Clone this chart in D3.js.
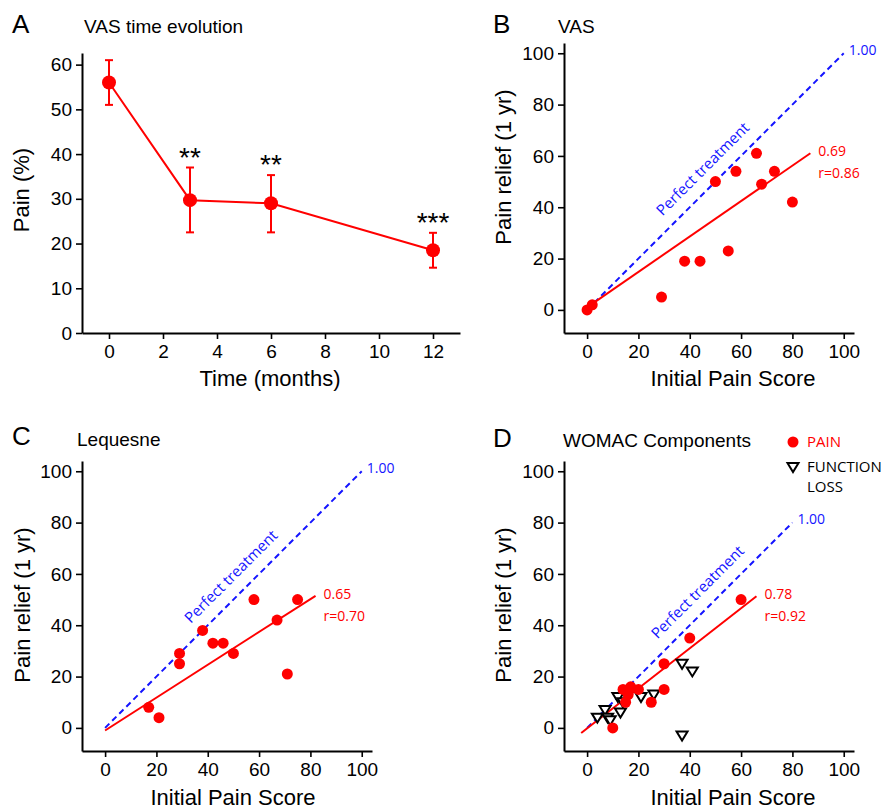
<!DOCTYPE html>
<html>
<head>
<meta charset="utf-8">
<script src="https://cdn.jsdelivr.net/npm/d3@7"></script>
<style>
    body { margin: 0; background: #fff; }
    svg { display: block; }
</style>
</head>
<body>
<div id="chart"></div>
<script>
// panel A : VAS over time
var monthsA = [0, 3, 6, 12];
var painA = [56, 29.7, 29, 18.5];
var errLowA = [51, 22.5, 22.5, 14.6];
var errHighA = [61, 37, 35.3, 22.4];
var sigA = ["", "**", "**", "***"];
var xTicksA = [0, 2, 4, 6, 8, 10, 12];
var xMinorA = [-1, 1, 3, 5, 7, 9, 11, 13];
var yTicksA = [0, 10, 20, 30, 40, 50, 60];
var yMinorA = [5, 15, 25, 35, 45, 55];

// panel B : VAS
var initialB = [0, 2, 29, 38, 44, 55, 50, 58, 66, 68, 73, 80];
var reliefB = [0, 2, 5, 19, 19, 23, 50, 54, 61, 49, 54, 42];
var fitB = [0.69, 1, 0, 87]; // slope, intercept, from, to

// panel C : Lequesne
var initialC = [17, 21, 29, 29, 38, 42, 46, 50, 58, 67, 71, 75];
var reliefC = [8, 4, 29, 25, 38, 33, 33, 29, 50, 42, 21, 50];
var fitC = [0.64, -1, 0, 82];

// panel D : WOMAC components
var initialPainD = [10, 15, 14, 16, 17, 20, 25, 30, 30, 40, 60];
var reliefPainD = [0, 10, 15, 13, 16, 15, 10, 15, 25, 35, 50];
var initialFuncD = [4, 7, 8, 9, 12, 13, 14, 21, 26, 37, 41, 37];
var reliefFuncD = [4, 7, 4, 3, 12, 6, 10, 12, 13, 25, 22, -3];
var fitD = [0.78, -0.2, -2.3, 66];

var scoreTicks = [0, 20, 40, 60, 80, 100];
var scoreMinor = [10, 30, 50, 70, 90];

var RED = "#ff0000", BLUE = "#1414ff";
var MAIN_FONT = "'Liberation Sans', Arial, Helvetica, sans-serif";
var NOTE_FONT = "'Open Sans', 'DejaVu Sans', sans-serif";

var svg = d3.select("#chart").append("svg")
    .attr("width", 881)
    .attr("height", 810);

svg.append("rect").attr("width", 881).attr("height", 810).attr("fill", "#fff");

//draws both axes with major (labelled) and minor ticks
function drawAxes(x, y, xMajor, xMinor, yMajor, yMinor) {
    var bottom = y.range()[0], left = x.range()[0];

    var gx = svg.append("g").attr("transform", "translate(0," + bottom + ")");
    gx.call(d3.axisBottom(x).tickValues(xMinor).tickSize(4).tickSizeOuter(0).tickFormat(""));
    gx.call(d3.axisBottom(x).tickValues(xMajor).tickSize(6).tickSizeOuter(0).tickPadding(6));

    var gy = svg.append("g").attr("transform", "translate(" + left + ",0)");
    gy.call(d3.axisLeft(y).tickValues(yMinor).tickSize(4).tickSizeOuter(0).tickFormat(""));
    gy.call(d3.axisLeft(y).tickValues(yMajor).tickSize(6).tickSizeOuter(0).tickPadding(4));

    [gx, gy].forEach(function (g) {
        g.selectAll(".domain").attr("stroke", "#000").attr("stroke-width", 2);
        g.selectAll(".tick line").attr("stroke", "#000").attr("stroke-width", 1.6);
        g.selectAll(".tick text")
            .attr("fill", "#000")
            .style("font-family", MAIN_FONT)
            .style("font-size", "19px");
    });
}

function panelTitle(letter, lx, ly, title, tx, ty) {
    svg.append("text").attr("x", lx).attr("y", ly)
        .style("font-family", MAIN_FONT).style("font-size", "26px")
        .text(letter);
    svg.append("text").attr("x", tx).attr("y", ty)
        .style("font-family", MAIN_FONT).style("font-size", "19px")
        .text(title);
}

function axisLabels(xText, xx, xy, yText, yx, yy) {
    svg.append("text").attr("x", xx).attr("y", xy)
        .attr("text-anchor", "middle")
        .style("font-family", MAIN_FONT).style("font-size", "22px")
        .text(xText);
    svg.append("text")
        .attr("transform", "translate(" + yx + "," + yy + ") rotate(-90)")
        .attr("text-anchor", "middle")
        .attr("dy", "0.35em")
        .style("font-family", MAIN_FONT).style("font-size", "22px")
        .text(yText);
}

// ---------------- panel A ----------------
var xA = d3.scaleLinear().domain([-1, 13]).range([82, 460]);
var yA = d3.scaleLinear().domain([0, 62.6]).range([333, 53]);
drawAxes(xA, yA, xTicksA, xMinorA, yTicksA, yMinorA);
panelTitle("A", 12, 33, "VAS time evolution", 84, 33);
axisLabels("Time (months)", 270, 386, "Pain (%)", 21, 190);

var lineA = d3.line()
    .x(function (d, i) { return xA(monthsA[i]); })
    .y(function (d) { return yA(d); });

svg.append("path").datum(painA)
    .attr("d", lineA)
    .attr("fill", "none")
    .attr("stroke", RED)
    .attr("stroke-width", 2);

var errA = svg.selectAll(".errA").data(monthsA).enter().append("g").attr("class", "errA");
errA.append("line")
    .attr("x1", function (d) { return xA(d); })
    .attr("x2", function (d) { return xA(d); })
    .attr("y1", function (d, i) { return yA(errLowA[i]); })
    .attr("y2", function (d, i) { return yA(errHighA[i]); });
errA.append("line")
    .attr("x1", function (d) { return xA(d) - 4; })
    .attr("x2", function (d) { return xA(d) + 4; })
    .attr("y1", function (d, i) { return yA(errLowA[i]); })
    .attr("y2", function (d, i) { return yA(errLowA[i]); });
errA.append("line")
    .attr("x1", function (d) { return xA(d) - 4; })
    .attr("x2", function (d) { return xA(d) + 4; })
    .attr("y1", function (d, i) { return yA(errHighA[i]); })
    .attr("y2", function (d, i) { return yA(errHighA[i]); });
errA.selectAll("line").attr("stroke", RED).attr("stroke-width", 2);

svg.selectAll(".dotA").data(monthsA).enter().append("circle")
    .attr("cx", function (d) { return xA(d); })
    .attr("cy", function (d, i) { return yA(painA[i]); })
    .attr("r", 7)
    .attr("fill", RED);

svg.selectAll(".sigA").data(monthsA).enter().append("text")
    .attr("x", function (d) { return xA(d); })
    .attr("y", function (d, i) { return yA(errHighA[i]) - 1; })
    .attr("text-anchor", "middle")
    .style("font-family", MAIN_FONT)
    .style("font-size", "28px")
    .text(function (d, i) { return sigA[i]; });

// ---------------- scatter panels ----------------
function scatterPanel(p) {
    var x = d3.scaleLinear().domain([-9, 104]).range(p.xRange);
    var y = d3.scaleLinear().domain([-9, 104]).range(p.yRange);
    drawAxes(x, y, scoreTicks, scoreMinor, scoreTicks, scoreMinor);
    panelTitle(p.letter, p.letterPos[0], p.letterPos[1], p.title, p.titlePos[0], p.titlePos[1]);
    axisLabels("Initial Pain Score", p.xLabelPos[0], p.xLabelPos[1],
        "Pain relief (1 yr)", p.yLabelPos[0], p.yLabelPos[1]);

    // perfect treatment line (slope 1)
    svg.append("line")
        .attr("x1", x(0)).attr("y1", y(0))
        .attr("x2", x(p.perfectTo)).attr("y2", y(p.perfectTo))
        .attr("stroke", BLUE)
        .attr("stroke-width", 2)
        .attr("stroke-dasharray", "6,4");
    svg.append("text")
        .attr("x", x(p.perfectTo) + 5).attr("y", y(p.perfectTo) - 3)
        .attr("dy", "0.35em")
        .attr("fill", BLUE)
        .style("font-family", NOTE_FONT).style("font-size", "14px")
        .text("1.00");
    svg.append("text")
        .attr("transform", "translate(" + x(p.perfectText) + "," + y(p.perfectText) + ") rotate(-45)")
        .attr("y", -18)
        .attr("dy", "0.35em")
        .attr("text-anchor", "middle")
        .attr("fill", BLUE)
        .style("font-family", NOTE_FONT).style("font-size", "15px")
        .text("Perfect treatment");

    // regression line
    var f = p.fit;
    svg.append("line")
        .attr("x1", x(f[2])).attr("y1", y(f[0] * f[2] + f[1]))
        .attr("x2", x(f[3])).attr("y2", y(f[0] * f[3] + f[1]))
        .attr("stroke", RED)
        .attr("stroke-width", 2);
    var ex = x(f[3]) + 8, ey = y(f[0] * f[3] + f[1]) - 2;
    svg.append("text").attr("x", ex).attr("y", ey).attr("dy", "0.35em")
        .attr("fill", RED)
        .style("font-family", NOTE_FONT).style("font-size", "14px")
        .text(p.slopeText);
    svg.append("text").attr("x", ex).attr("y", ey + 22).attr("dy", "0.35em")
        .attr("fill", RED)
        .style("font-family", NOTE_FONT).style("font-size", "14px")
        .text(p.rText);

    if (p.funcX) {
        svg.selectAll(null).data(p.funcX).enter().append("path")
            .attr("d", "M-5.5,-4 L5.5,-4 L0,5 Z")
            .attr("transform", function (d, i) { return "translate(" + x(d) + "," + y(p.funcY[i]) + ")"; })
            .attr("fill", "#fff")
            .attr("stroke", "#000")
            .attr("stroke-width", 2);
    }

    svg.selectAll(null).data(p.dotsX).enter().append("circle")
        .attr("cx", function (d) { return x(d); })
        .attr("cy", function (d, i) { return y(p.dotsY[i]); })
        .attr("r", 5.5)
        .attr("fill", RED);
}

scatterPanel({
    xRange: [564, 854], yRange: [333, 43],
    letter: "B", letterPos: [493, 33], title: "VAS", titlePos: [558, 33],
    xLabelPos: [733, 386], yLabelPos: [503, 167],
    perfectTo: 100, perfectText: 50,
    fit: fitB, slopeText: "0.69", rText: "r=0.86",
    dotsX: initialB, dotsY: reliefB
});

scatterPanel({
    xRange: [82, 372], yRange: [751, 461],
    letter: "C", letterPos: [12, 445], title: "Lequesne", titlePos: [77, 446],
    xLabelPos: [233, 805], yLabelPos: [22, 605],
    perfectTo: 100, perfectText: 54,
    fit: fitC, slopeText: "0.65", rText: "r=0.70",
    dotsX: initialC, dotsY: reliefC
});

scatterPanel({
    xRange: [564, 854], yRange: [751, 461],
    letter: "D", letterPos: [493, 447], title: "WOMAC Components", titlePos: [563, 447],
    xLabelPos: [733, 805], yLabelPos: [503, 605],
    perfectTo: 80, perfectText: 48,
    fit: fitD, slopeText: "0.78", rText: "r=0.92",
    dotsX: initialPainD, dotsY: reliefPainD,
    funcX: initialFuncD, funcY: reliefFuncD
});

//legend for panel D
svg.append("circle").attr("cx", 793).attr("cy", 442).attr("r", 5.5).attr("fill", RED);
svg.append("path").attr("d", "M-5.5,-4 L5.5,-4 L0,5 Z")
    .attr("transform", "translate(793,467)")
    .attr("fill", "#fff").attr("stroke", "#000").attr("stroke-width", 2);
svg.append("text").attr("x", 807).attr("y", 442).attr("dy", "0.35em")
    .attr("fill", RED).style("font-family", NOTE_FONT).style("font-size", "15px").text("PAIN");
svg.append("text").attr("x", 807).attr("y", 467).attr("dy", "0.35em")
    .style("font-family", NOTE_FONT).style("font-size", "15px").text("FUNCTION");
svg.append("text").attr("x", 807).attr("y", 487).attr("dy", "0.35em")
    .style("font-family", NOTE_FONT).style("font-size", "15px").text("LOSS");
</script>
</body>
</html>
